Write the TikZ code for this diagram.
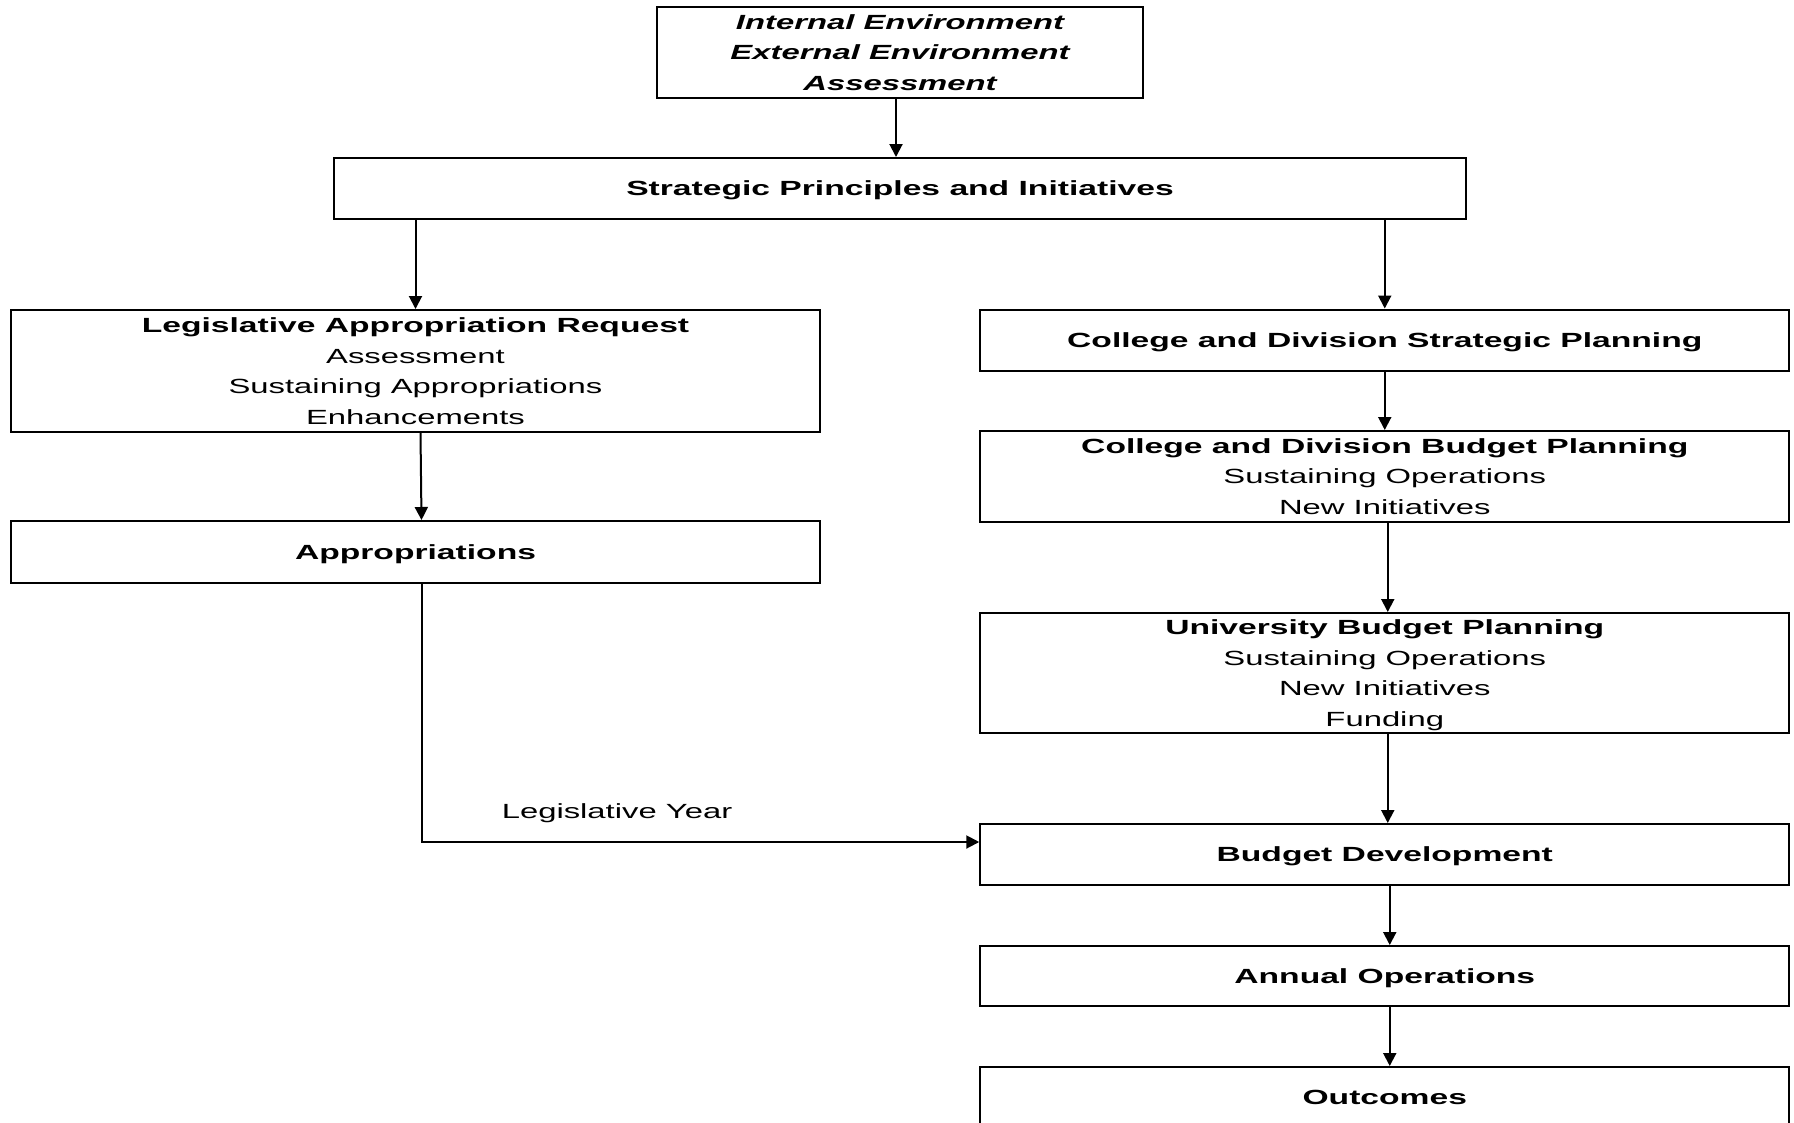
\documentclass[tikz,border=0pt]{standalone}
\usepackage{fontspec}
\newfontfamily\stf[FakeStretch=1.6, BoldFeatures={FakeStretch=1.64}, BoldItalicFeatures={FakeStretch=1.6}]{Liberation Sans}
\usetikzlibrary{arrows.meta}
\begin{document}
\begin{tikzpicture}[x=1pt,y=-1pt,
  txt/.style={font=\stf\fontsize{20.5}{30.5}\selectfont},
  box/.style={txt, draw=black, line width=2pt, inner sep=0pt, align=center, text depth=0pt, minimum width=809pt},
  arr/.style={line width=2pt, -{Triangle[length=13pt,width=13pt]}}]
\useasboundingbox[fill=white] (0,0) rectangle (1794,1122);

\node[box, minimum width=486pt, minimum height=91pt] (top) at (900,52.5)
  {\bfseries\itshape Internal Environment\\ \bfseries\itshape External Environment\\ \bfseries\itshape Assessment};
\node[box, minimum width=1132pt, minimum height=61pt] (strat) at (900,188.5)
  {\bfseries Strategic Principles and Initiatives};

\node[box, minimum height=122pt] (leg) at (415.5,371)
  {\textbf{Legislative Appropriation Request}\\ Assessment\\ Sustaining Appropriations\\ Enhancements};
\node[box, minimum height=62pt] (app) at (415.5,552)
  {\bfseries Appropriations};

\node[box, minimum height=61pt] (cds) at (1384.75,340)
  {\bfseries College and Division Strategic Planning};
\node[box, minimum height=91pt] (cdb) at (1384.75,476.5)
  {\textbf{College and Division Budget Planning}\\ Sustaining Operations\\ New Initiatives};
\node[box, minimum height=120pt] (ubp) at (1384.75,673)
  {\textbf{University Budget Planning}\\ Sustaining Operations\\ New Initiatives\\ Funding};
\node[box, minimum height=61pt] (bd) at (1384.75,854.5)
  {\bfseries Budget Development};
\node[box, minimum height=60pt] (ao) at (1384.75,976)
  {\bfseries Annual Operations};
\node[box, minimum height=61pt] (out) at (1384.75,1097.5)
  {\bfseries Outcomes};

\node[txt, anchor=base] (ly) at (617,818) {Legislative Year};

\draw[arr] ([xshift=-4pt]top.south) -- ([xshift=-4pt]top.south |- strat.north);
\draw[arr] (strat.south -| leg.north) -- (leg.north);
\draw[arr] (strat.south -| cds.north) -- (cds.north);
\draw[arr] ([xshift=5pt]leg.south) -- ([xshift=6pt]app.north);
\draw[arr] (cds.south) -- (cdb.north);
\draw[arr] ([xshift=3pt]cdb.south) -- ([xshift=3pt]ubp.north);
\draw[arr] ([xshift=3pt]ubp.south) -- ([xshift=3pt]bd.north);
\draw[arr] ([xshift=5pt]bd.south) -- ([xshift=5pt]ao.north);
\draw[arr] ([xshift=5pt]ao.south) -- ([xshift=5pt]out.north);
\draw[arr] ([xshift=6pt]app.south) |- ([yshift=12.5pt]bd.west);
\end{tikzpicture}
\end{document}
